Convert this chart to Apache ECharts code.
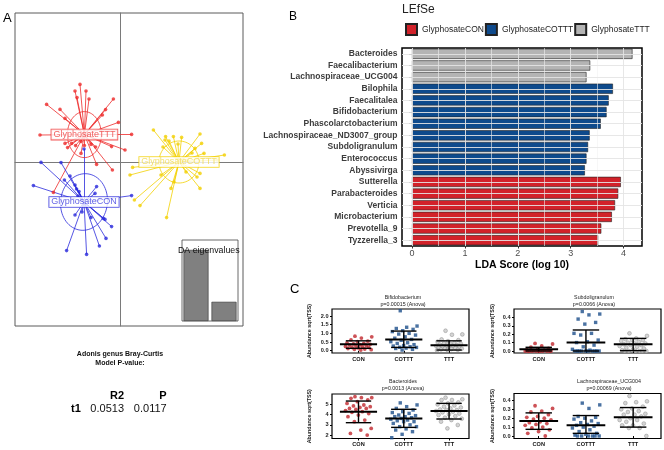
<!DOCTYPE html>
<html><head><meta charset="utf-8">
<script src="https://cdn.jsdelivr.net/npm/echarts@6/dist/echarts.min.js"></script>
<style>html,body{margin:0;padding:0;background:#fff}#c{width:664px;height:450px}</style>
</head><body><div id="c"></div>
<script>
// ================= Panel A : DAPC scatter (LD units) =================
const groupsA = ['GlyphosateTTT', 'GlyphosateCON', 'GlyphosateCOTTT'];
const pointsTTT = [[-2.0,3.88],[-2.25,3.55],[-1.7,3.55],[-2.15,3.22],[-1.55,3.15],[-3.67,2.88],[-0.33,3.15],[-0.72,2.62],[-0.88,2.35],[-3.0,2.63],[-2.75,2.18],[-0.08,1.98],[-4.0,1.35],[0.58,1.38],[-0.42,0.77],[0.25,0.6],[-2.75,0.93],[-2.62,0.72],[-2.42,0.93],[-2.22,0.82],[-1.95,1.02],[-1.78,0.82],[-1.45,0.88],[-1.22,0.75],[-1.17,-0.12],[-0.38,-0.4],[-3.33,-1.52],[-1.95,0.43]];
const pointsCON = [[-3.95,-0.02],[-2.95,-0.03],[-4.33,-1.18],[-2.78,-0.9],[-2.5,-0.7],[-2.25,-1.15],[-2.17,-1.35],[-2.05,-1.48],[-1.25,-1.57],[-1.17,-1.23],[0.58,-1.68],[-2.25,-2.65],[-1.9,-2.5],[-1.45,-2.78],[-0.83,-2.82],[-0.75,-2.87],[-0.42,-3.23],[-0.7,-3.82],[-1.03,-4.2],[-1.67,-4.62],[-2.67,-4.43],[-1.8,0.65],[-2.1,-1.7]];
const pointsCOTTT = [[1.67,1.6],[2.25,1.1],[2.28,1.27],[2.67,1.27],[3.08,1.23],[2.45,1.05],[4.0,1.4],[4.08,0.93],[3.75,0.68],[4.2,0.43],[5.22,0.35],[4.85,0.1],[3.6,0.45],[2.15,0.75],[0.63,-0.27],[0.5,-0.65],[2.05,-0.65],[4.0,-0.57],[3.85,-0.75],[4.0,-1.32],[0.72,-1.9],[1.0,-2.18],[2.33,-2.78],[2.55,-1.32],[2.7,-1.0],[3.3,-0.5],[2.9,0.9]];
const centersA = [[-1.78,1.37],[-1.8,-2.0],[2.95,0.0]];
const ellipsesA = [[0.85,1.15,0],[1.17,1.42,-8],[1.0,1.05,0]]; // rx, ry, angle
const eigenNames = ['1','2'];
const eigenValues = [1.0, 0.27];

// ================= Panel B : LEfSe =================
const lefseTaxa = ['Bacteroides','Faecalibacterium','Lachnospiraceae_UCG004','Bilophila','Faecalitalea','Bifidobacterium','Phascolarctobacterium','Lachnospiraceae_ND3007_group','Subdoligranulum','Enterococcus','Abyssivirga','Sutterella','Parabacteroides','Verticia','Microbacterium','Prevotella_9','Tyzzerella_3'];
const lefseScores = [4.17,3.37,3.30,3.80,3.72,3.68,3.57,3.36,3.33,3.30,3.27,3.95,3.90,3.84,3.78,3.58,3.52];
const lefseGroup = ['GlyphosateTTT','GlyphosateTTT','GlyphosateTTT','GlyphosateCOTTT','GlyphosateCOTTT','GlyphosateCOTTT','GlyphosateCOTTT','GlyphosateCOTTT','GlyphosateCOTTT','GlyphosateCOTTT','GlyphosateCOTTT','GlyphosateCON','GlyphosateCON','GlyphosateCON','GlyphosateCON','GlyphosateCON','GlyphosateCON'];
const lefseLegend = ['GlyphosateCON','GlyphosateCOTTT','GlyphosateTTT'];
const lefseTicks = [0,1,2,3,4];
const lefseMinor = [0.5,1.5,2.5,3.5];

// ================= Panel C : abundance dot plots =================
const cCats = ['CON','COTTT','TTT'];
const bifidoCON = [0.84,0.8,0.73,0.62,0.55,0.52,0.45,0.42,0.4,0.37,0.35,0.33,0.3,0.27,0.25,0.23,0.2,0.19,0.16,0.13,0.1,0.08,0.06,0.04];
const bifidoCOTTT = [2.3,1.42,1.35,1.28,1.23,1.15,1.1,1.0,0.96,0.9,0.8,0.72,0.65,0.6,0.52,0.46,0.42,0.35,0.3,0.27,0.23,0.2,0.19,0.15,0.13,0.08,0.04];
const bifidoTTT = [1.15,0.94,0.92,0.65,0.61,0.55,0.52,0.45,0.42,0.4,0.38,0.35,0.33,0.3,0.28,0.27,0.25,0.23,0.2,0.18,0.15,0.13,0.12,0.1,0.08,0.06,0.05,0.03];
const bifidoStats = [[0.14,0.37,0.57],[0.19,0.65,1.13],[0.04,0.31,0.57]];
const bifidoTicks = [0,0.5,1,1.5,2];

const subdoCON = [0.09,0.083,0.06,0.045,0.03,0.02,0.015,0.01,0.005,0,0,0,0,0,0,0,0,0,0,0];
const subdoCOTTT = [0.47,0.44,0.43,0.38,0.34,0.32,0.21,0.21,0.19,0.13,0.11,0.1,0.07,0.05,0.02,0.01,0,0,0,0,0,0,0,0,0,0];
const subdoTTT = [0.21,0.18,0.15,0.14,0.13,0.13,0.12,0.11,0.1,0.09,0.09,0.08,0.07,0.07,0.06,0.05,0.04,0.03,0.02,0.01,0,0,0,0,0,0];
const subdoStats = [[0.0,0.02,0.044],[0.0,0.1,0.25],[0.004,0.079,0.15]];
const subdoTicks = [0,0.1,0.2,0.3,0.4];

const bactCON = [5.76,5.66,5.66,5.6,5.45,5.27,5.1,4.94,4.85,4.78,4.7,4.61,4.61,4.5,4.4,4.29,4.22,4.1,3.96,3.8,3.47,3.31,2.65,2.49,2.16,2.0];
const bactCOTTT = [5.15,4.95,4.78,4.61,4.45,4.29,4.2,4.12,3.96,3.9,3.8,3.8,3.7,3.63,3.55,3.47,3.4,3.31,3.31,3.14,3.0,2.82,2.82,2.6,2.49,2.33,2.07,1.74];
const bactTTT = [5.66,5.5,5.43,5.43,5.2,5.1,5.0,4.9,4.78,4.7,4.61,4.5,4.45,4.45,4.35,4.29,4.22,4.1,4.03,3.96,3.85,3.7,3.6,3.47,3.31,2.98,2.65];
const bactStats = [[3.21,4.29,5.33],[2.75,3.63,4.52],[3.57,4.35,5.1]];
const bactTicks = [2,3,4,5];

const lachCON = [0.34,0.31,0.28,0.27,0.24,0.22,0.21,0.2,0.19,0.18,0.16,0.15,0.14,0.13,0.12,0.1,0.09,0.07,0.05,0.03,0.0];
const lachCOTTT = [0.37,0.35,0.31,0.22,0.21,0.2,0.19,0.17,0.15,0.14,0.13,0.12,0.11,0.1,0.09,0.07,0.05,0.03,0.02,0.01,0,0,0,0,0,0];
const lachTTT = [0.45,0.39,0.38,0.37,0.33,0.31,0.3,0.28,0.27,0.25,0.24,0.24,0.22,0.2,0.18,0.18,0.16,0.14,0.12,0.12,0.09,0.09,0.0];
const lachStats = [[0.075,0.17,0.26],[0.03,0.12,0.23],[0.1,0.21,0.32]];
const lachTicks = [0,0.1,0.2,0.3,0.4];

// ---------------- styles / layout ----------------
const FONT = 'Liberation Sans, Arial, Helvetica, sans-serif';
const colorsA = ['#ee2a2a', '#2b2bdc', '#f2d000'];
const labelTextA = ['#ee3a3a', '#3a3ade', '#f0d84a'];
const lefseColors = {GlyphosateCON:'#d2222a', GlyphosateCOTTT:'#0e4a8c', GlyphosateTTT:'#b4b4b4'};
const cColors = ['#c0272d','#1d4f8b','#c9c9c9'];
const cBorders = ['#a01f25','#163f70','#8c8c8c'];
const cSymbols = ['circle','rect','circle'];

const cPanels = [
  {title:'Bifidobacterium', p:'p=0.00015 (Anova)', groups:[bifidoCON,bifidoCOTTT,bifidoTTT], stats:bifidoStats, ticks:bifidoTicks, dec:1,
   left:332, top:309, width:137, height:44, ymin:-0.13, ymax:2.4, xmin:0.415, xmax:3.44, tx:403, ty:298, ng:20},
  {title:'Subdoligranulum', p:'p=0.0066 (Anova)', groups:[subdoCON,subdoCOTTT,subdoTTT], stats:subdoStats, ticks:subdoTicks, dec:1,
   left:514, top:309, width:147, height:44, ymin:-0.024, ymax:0.5, xmin:0.476, xmax:3.59, tx:594, ty:298, ng:19},
  {title:'Bacteroides', p:'p=0.0013 (Anova)', groups:[bactCON,bactCOTTT,bactTTT], stats:bactStats, ticks:bactTicks, dec:0,
   left:332, top:394, width:137, height:44.5, ymin:1.66, ymax:6.02, xmin:0.415, xmax:3.44, tx:403, ty:382, ng:20},
  {title:'Lachnospiraceae_UCG004', p:'p=0.00069 (Anova)', groups:[lachCON,lachCOTTT,lachTTT], stats:lachStats, ticks:lachTicks, dec:1,
   left:514, top:393.5, width:147, height:45, ymin:-0.028, ymax:0.478, xmin:0.476, xmax:3.59, tx:609, ty:382, ng:19}
];
const jitter = i => ((((i * 0.6180339887) + 0.37) % 1) - 0.5) * 0.6;

const grids = [], xAxes = [], yAxes = [], series = [], graphics = [];

// ---- Grid 0 : panel A
grids.push({left:15, top:13, width:228, height:313, show:true, borderColor:'#5a5a5a', borderWidth:1, backgroundColor:'transparent'});
xAxes.push({type:'value', gridIndex:0, min:-5.25, max:6.15, axisLine:{show:true, onZero:true, lineStyle:{color:'#7a7a7a', width:1}}, axisTick:{show:false}, axisLabel:{show:false}, splitLine:{show:false}});
yAxes.push({type:'value', gridIndex:0, min:-8.2, max:7.45, axisLine:{show:true, onZero:true, lineStyle:{color:'#7a7a7a', width:1}}, axisTick:{show:false}, axisLabel:{show:false}, splitLine:{show:false}});
const ptsA = [pointsTTT, pointsCON, pointsCOTTT];
ptsA.forEach((pts, g) => {
  series.push({type:'lines', coordinateSystem:'cartesian2d', xAxisIndex:0, yAxisIndex:0, silent:true, z:2,
    data: pts.map(p => ({coords:[centersA[g], p]})), lineStyle:{color:colorsA[g], width:0.8, opacity:1}});
  series.push({type:'scatter', xAxisIndex:0, yAxisIndex:0, silent:true, z:4, symbol:'circle', symbolSize:3.6,
    data: pts, itemStyle:{color:colorsA[g]}});
});
series.push({type:'custom', xAxisIndex:0, yAxisIndex:0, silent:true, z:3,
  data: centersA.map((c,i) => [c[0], c[1], ellipsesA[i][0], ellipsesA[i][1], ellipsesA[i][2], i]),
  renderItem: (params, api) => {
    const cx = api.value(0), cy = api.value(1), rx = api.value(2), ry = api.value(3), a = api.value(4) * Math.PI / 180;
    const pts = [];
    for (let t = 0; t < 72; t++) {
      const th = t / 72 * 2 * Math.PI, ex = rx * Math.cos(th), ey = ry * Math.sin(th);
      pts.push(api.coord([cx + ex * Math.cos(a) - ey * Math.sin(a), cy + ex * Math.sin(a) + ey * Math.cos(a)]));
    }
    return {type:'polygon', shape:{points:pts}, style:{fill:'none', stroke:colorsA[api.value(5)], lineWidth:0.8}};
  }});
series.push({type:'scatter', xAxisIndex:0, yAxisIndex:0, silent:true, z:6, symbolSize:1, itemStyle:{color:'rgba(0,0,0,0)'},
  labelLayout:{hideOverlap:false},
  data: centersA.map((c,i) => ({value:c, name:groupsA[i],
    label:{show:true, position:'inside', formatter:'{b}', color:labelTextA[i], fontSize:9, fontFamily:FONT,
      backgroundColor:'#fff', borderColor:colorsA[i], borderWidth:0.8, padding:[1,2,0,2]}}))});

// ---- Grid 1 : panel B
grids.push({left:402, top:48, width:240, height:198, show:true, borderColor:'#000', borderWidth:1.5, backgroundColor:'#fff'});
xAxes.push({type:'value', gridIndex:1, min:-0.19, max:4.35,
  name:'LDA Score (log 10)', nameLocation:'middle', nameGap:14, nameTextStyle:{fontWeight:'bold', fontSize:10.5, color:'#000', fontFamily:FONT},
  axisLine:{show:false}, splitLine:{show:false},
  axisTick:{show:true, customValues:lefseTicks, length:2.5, lineStyle:{color:'#333'}},
  axisLabel:{customValues:lefseTicks, fontSize:9, color:'#4d4d4d', margin:3, fontFamily:FONT}});
yAxes.push({type:'category', gridIndex:1, data:lefseTaxa, inverse:true,
  axisLine:{show:false}, splitLine:{show:false},
  axisTick:{show:true, alignWithLabel:true, interval:0, length:3, lineStyle:{color:'#333'}},
  axisLabel:{interval:0, fontSize:8.5, fontWeight:'bold', color:'#3d3d3d', margin:4.5, fontFamily:FONT}});
series.push({type:'line', xAxisIndex:1, yAxisIndex:1, silent:true, z:1, data:lefseTaxa.map(() => '-'), symbol:'none',
  markLine:{silent:true, symbol:['none','none'], label:{show:false}, animation:false,
    data: [
      ...lefseMinor.map(v => ({xAxis:v, lineStyle:{color:'#f2f2f2', width:0.6, type:'solid'}})),
      ...lefseTicks.map(v => ({xAxis:v, lineStyle:{color:'#e4e4e4', width:0.9, type:'solid'}})),
      ...lefseTaxa.map(t => ({yAxis:t, lineStyle:{color:'#e4e4e4', width:0.9, type:'solid'}}))
    ]}});
lefseLegend.forEach(g => {
  series.push({type:'bar', name:g, xAxisIndex:1, yAxisIndex:1, z:3, barWidth:'88%', barGap:'-100%',
    data: lefseTaxa.map((t,i) => lefseGroup[i] === g ? lefseScores[i] : '-'),
    itemStyle:{color:lefseColors[g], borderColor:'#222', borderWidth:0.6}});
});

// ---- Grid 2 : DA eigenvalues inset
grids.push({left:182, top:240, width:56, height:81, show:true, borderColor:'#444', borderWidth:0.8, backgroundColor:'#fff', z:5});
xAxes.push({type:'category', gridIndex:2, data:eigenNames, show:false});
yAxes.push({type:'value', gridIndex:2, min:0, max:1.14, show:false});
series.push({type:'bar', xAxisIndex:2, yAxisIndex:2, silent:true, z:6, barWidth:25, data:eigenValues,
  itemStyle:{color:'#808080', borderColor:'#333', borderWidth:0.6}});

// ---- Grids 3.. : panel C
cPanels.forEach((P, k) => {
  const gi = 3 + k;
  grids.push({left:P.left, top:P.top, width:P.width, height:P.height, show:true, borderColor:'#000', borderWidth:1.2, backgroundColor:'#fff'});
  xAxes.push({type:'value', gridIndex:gi, min:P.xmin, max:P.xmax, axisLine:{show:false}, splitLine:{show:false},
    axisTick:{show:true, customValues:[1,2,3], length:2, lineStyle:{color:'#000'}},
    axisLabel:{customValues:[1,2,3], formatter: v => cCats[Math.round(v) - 1], fontSize:5.6, fontWeight:'bold', color:'#111', margin:3, fontFamily:FONT}});
  yAxes.push({type:'value', gridIndex:gi, min:P.ymin, max:P.ymax, axisLine:{show:false}, splitLine:{show:false},
    name:'Abundance sqrt(TSS)', nameLocation:'middle', nameGap:P.ng, nameRotate:90,
    nameTextStyle:{fontSize:5.3, fontWeight:'bold', color:'#222', fontFamily:FONT},
    axisTick:{show:true, customValues:P.ticks, length:2, lineStyle:{color:'#000'}},
    axisLabel:{customValues:P.ticks, formatter: v => v.toFixed(P.dec), fontSize:5.6, fontWeight:'bold', color:'#222', margin:3.5, fontFamily:FONT}});
  P.groups.forEach((vals, g) => {
    series.push({type:'scatter', xAxisIndex:gi, yAxisIndex:gi, silent:true, z:4, symbol:cSymbols[g], symbolSize: g === 1 ? 3.4 : 3.8,
      data: vals.map((v, i) => [g + 1 + jitter(i), v]),
      itemStyle:{color:cColors[g], borderColor:cBorders[g], borderWidth: g === 2 ? 0.6 : 0}});
  });
  series.push({type:'custom', xAxisIndex:gi, yAxisIndex:gi, silent:true, z:6,
    data: P.stats.map((s, g) => [g + 1, s[0], s[1], s[2]]),
    renderItem: (params, api) => {
      const x = api.value(0), lo = api.value(1), m = api.value(2), hi = api.value(3);
      const L = (a, b, w) => ({type:'line', shape:{x1:a[0], y1:a[1], x2:b[0], y2:b[1]}, style:{stroke:'#000', lineWidth:w}});
      return {type:'group', children:[
        L(api.coord([x, lo]), api.coord([x, hi]), 1.4),
        L(api.coord([x - 0.28, lo]), api.coord([x + 0.28, lo]), 1.4),
        L(api.coord([x - 0.28, hi]), api.coord([x + 0.28, hi]), 1.4),
        L(api.coord([x - 0.41, m]), api.coord([x + 0.41, m]), 2)
      ]};
    }});
  graphics.push({type:'text', x:P.tx, y:P.ty, z:10, style:{text:P.title, fontSize:5.3, fontFamily:FONT, fill:'#222', align:'center', verticalAlign:'middle', textAlign:'center', textVerticalAlign:'middle'}});
  graphics.push({type:'text', x:P.tx, y:P.ty + 6.5, z:10, style:{text:P.p, fontSize:5.3, fontFamily:FONT, fill:'#222', align:'center', verticalAlign:'middle', textAlign:'center', textVerticalAlign:'middle'}});
});

// ---- free texts
function txt(t, x, y, size, weight, align, color) {
  graphics.push({type:'text', x:x, y:y, z:20, style:{text:t, fontSize:size, fontWeight:weight || 'normal', fontFamily:FONT, fill:color || '#000',
    align:align || 'left', verticalAlign:'middle', textAlign:align || 'left', textVerticalAlign:'middle'}});
}
txt('A', 3, 18, 13);
txt('B', 289, 17, 12);
txt('C', 290, 289, 13);
txt('LEfSe', 402, 10, 12, 'normal', 'left', '#222');
txt('DA eigenvalues', 178, 251, 8.8, 'normal', 'left', '#111');
txt('Adonis genus Bray-Curtis', 120, 354, 7, 'bold', 'center', '#111');
txt('Model P-value:', 120, 363, 7, 'bold', 'center', '#111');
txt('R2', 124, 396, 11, 'bold', 'right');
txt('P', 166.7, 396, 11, 'bold', 'right');
txt('t1', 71, 409, 11, 'bold', 'left');
txt('0.0513', 124, 409, 11, 'normal', 'right', '#111');
txt('0.0117', 166.7, 409, 11, 'normal', 'right', '#111');

const option = {
  animation: false,
  textStyle: {fontFamily: FONT},
  legend: {data: lefseLegend, left: 405, top: 23, itemWidth: 11, itemHeight: 11, itemGap: 1, icon: 'rect', padding: 0,
    textStyle: {fontSize: 8.5, color: '#222', fontFamily: FONT}, selectedMode: false},
  grid: grids, xAxis: xAxes, yAxis: yAxes, series: series, graphic: graphics
};
const chart = echarts.init(document.getElementById('c'));
chart.setOption(option);
</script></body></html>
